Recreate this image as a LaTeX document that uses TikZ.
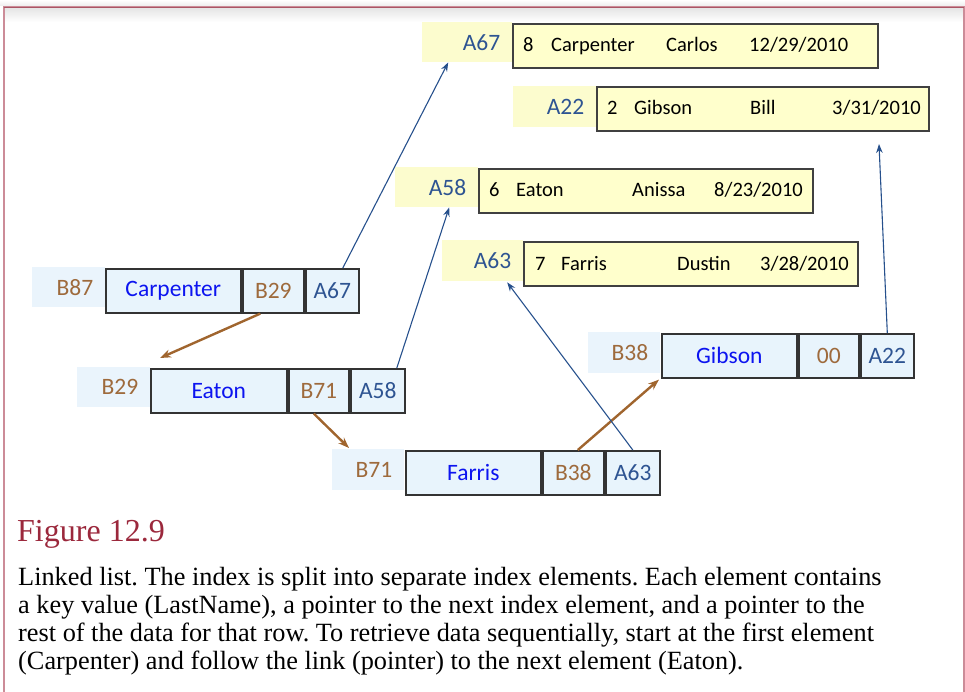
\documentclass[tikz,border=0pt]{standalone}
\usepackage{fontspec}
\setmainfont{Liberation Serif}
\newfontfamily\dfont{Carlito}
\usetikzlibrary{arrows.meta,calc}

\definecolor{yelfill}{RGB}{255,255,204}
\definecolor{yelbg}{RGB}{252,252,206}
\definecolor{bluefill}{RGB}{232,244,252}
\definecolor{bluebg}{RGB}{234,244,252}
\definecolor{keyblue}{RGB}{12,20,240}
\definecolor{ptrbrown}{RGB}{158,106,60}
\definecolor{ptrblue}{RGB}{46,84,146}
\definecolor{arrbrown}{RGB}{160,101,46}
\definecolor{arrblue}{RGB}{38,80,140}
\definecolor{framered}{RGB}{204,140,152}
\definecolor{frametop}{RGB}{170,86,101}
\definecolor{capred}{RGB}{155,40,60}

\tikzset{
  idxfont/.style={font=\dfont\fontsize{23.5}{28}\selectfont},
  cellbox/.style={draw=black!80, line width=1.6pt, fill=bluefill, inner sep=0pt,
    anchor=north west, minimum height=44pt, idxfont},
  keycell/.style={cellbox, text=keyblue},
  nextcell/.style={cellbox, text=ptrbrown},
  datacell/.style={cellbox, text=ptrblue},
  idxlabel/.style={fill=bluebg, inner xsep=12pt, inner ysep=0pt, anchor=north west,
    align=right, minimum height=40pt, text=ptrbrown, idxfont},
  rowlabel/.style={fill=yelbg, inner xsep=12pt, inner ysep=0pt, anchor=north west,
    align=right, minimum height=40pt, text=ptrblue, idxfont},
  databox/.style={draw=black!75, line width=2pt, fill=yelfill, inner sep=0pt,
    anchor=north west, minimum height=44pt},
  field/.style={anchor=base west, inner sep=0pt, font=\dfont\fontsize{20.5}{24}\selectfont},
  nextarrow/.style={draw=arrbrown, line width=2.4pt, -{Stealth[length=11pt,width=8pt]}},
  dataarrow/.style={draw=arrblue, line width=1.1pt, -{Stealth[length=9pt,width=6.5pt]}},
  capline/.style={anchor=base west, inner sep=0pt, font=\frenchspacing\fontsize{26.3}{28}\selectfont}
}

\begin{document}
\begin{tikzpicture}[x=1pt,y=-1pt]
\useasboundingbox (0,0) rectangle (965,692);

% frame and its soft shadow
\shade[top color=white, bottom color=black!7] (0,0) rectangle (965,6);
\shade[top color=black!10, bottom color=white] (4,8) rectangle (963,22);
\draw[framered, line width=2pt] (3.5,700) -- (3.5,7.5) -- (963.5,7.5) -- (963.5,700);
\draw[frametop, line width=1.6pt] (3.5,7.5) -- (963.5,7.5);

% data rows
\node[rowlabel, text width=66pt] (lA67) at (422,22) {A67};
\node[databox, minimum width=365pt] (dA67) at (512,23) {};
\node[field] (f67a) at (523,52) {8};
\node[field] (f67b) at (551,52) {Carpenter};
\node[field] (f67c) at (666,52) {Carlos};
\node[field] (f67d) at (749,52) {12/29/2010};

\node[rowlabel, text width=59pt, minimum height=41pt] (lA22) at (513,86) {A22};
\node[databox, minimum width=332pt] (dA22) at (596,86) {};
\node[field] (f22a) at (607,115) {2};
\node[field] (f22b) at (634,115) {Gibson};
\node[field] (f22c) at (750,115) {Bill};
\node[field] (f22d) at (832,115) {3/31/2010};

\node[rowlabel, text width=59pt] (lA58) at (395,167) {A58};
\node[databox, minimum width=334pt] (dA58) at (478,168) {};
\node[field] (f58a) at (489,197) {6};
\node[field] (f58b) at (516,197) {Eaton};
\node[field] (f58c) at (632,197) {Anissa};
\node[field] (f58d) at (714,197) {8/23/2010};

\node[rowlabel, text width=57pt, minimum height=41pt] (lA63) at (442,240) {A63};
\node[databox, minimum width=334pt] (dA63) at (523,241) {};
\node[field] (f63a) at (535,270) {7};
\node[field] (f63b) at (561,270) {Farris};
\node[field] (f63c) at (677,270) {Dustin};
\node[field] (f63d) at (760,270) {3/28/2010};

% index elements
\node[idxlabel, text width=49pt] (lB87) at (32,267) {B87};
\node[keycell, minimum width=135pt] (kCarp) at (105,268) {Carpenter};
\node[nextcell, minimum width=61pt] (nCarp) at (242,268) {B29};
\node[datacell, minimum width=53pt] (pCarp) at (305,268) {A67};

\node[idxlabel, text width=49pt] (lB29) at (77,367) {B29};
\node[keycell, minimum width=136pt] (kEaton) at (150,368) {Eaton};
\node[nextcell, minimum width=60pt] (nEaton) at (288,368) {B71};
\node[datacell, minimum width=54pt] (pEaton) at (350,368) {A58};

\node[idxlabel, text width=48pt, minimum height=41pt] (lB71) at (332,449) {B71};
\node[keycell, minimum width=135pt] (kFarris) at (405,450) {Farris};
\node[nextcell, minimum width=61pt] (nFarris) at (542,450) {B38};
\node[datacell, minimum width=54pt] (pFarris) at (605,450) {A63};

\node[idxlabel, text width=48pt, minimum height=41pt] (lB38) at (588,332) {B38};
\node[keycell, minimum width=135pt] (kGibson) at (661,333) {Gibson};
\node[nextcell, minimum width=60pt] (nGibson) at (798,333) {00};
\node[datacell, minimum width=53pt] (pGibson) at (860,333) {A22};

% arrow ends
\coordinate (toEaton) at ([shift={(10,-10)}]kEaton.north west);
\coordinate (toFarris) at ([shift={(17,-1)}]lB71.north west);
\coordinate (toGibson) at ([shift={(-2,1)}]kGibson.south west);
\coordinate (toA67) at ([shift={(-19,0)}]lA67.south);
\coordinate (toA58) at ([shift={(12.5,0)}]lA58.south);
\coordinate (toA63) at ([shift={(24.5,1)}]lA63.south);
\coordinate (toA22) at ([shift={(-51,12)}]dA22.south east);

% next-element links
\draw[nextarrow] ([xshift=-13pt]nCarp.south) -- (toEaton);
\draw[nextarrow] ([xshift=-5pt]nEaton.south) -- (toFarris);
\draw[nextarrow] ([xshift=4.5pt]nFarris.north) -- (toGibson);

% pointers to the data rows
\draw[dataarrow] ([xshift=10.5pt]pCarp.north) -- (toA67);
\draw[dataarrow] ([xshift=19pt]pEaton.north) -- (toA58);
\draw[dataarrow] (pFarris.north) -- (toA63);
\draw[dataarrow] (pGibson.north) -- (toA22);

% caption
\node[anchor=base west, inner sep=0pt, text=capred, font=\fontsize{32}{36}\selectfont] (figno) at (17,541) {Figure 12.9};
\node[capline] (cap1) at (18,585) {Linked list. The index is split into separate index elements. Each element contains};
\node[capline] (cap2) at (18,613) {a key value (LastName), a pointer to the next index element, and a pointer to the};
\node[capline] (cap3) at (18,641) {rest of the data for that row. To retrieve data sequentially, start at the first element};
\node[capline] (cap4) at (18,669) {(Carpenter) and follow the link (pointer) to the next element (Eaton).};
\end{tikzpicture}
\end{document}
